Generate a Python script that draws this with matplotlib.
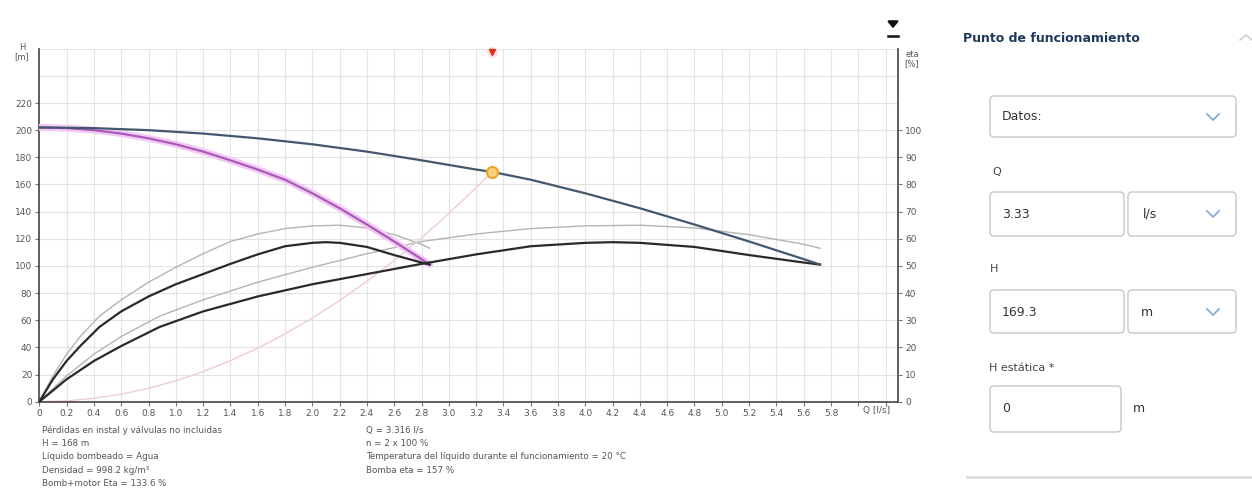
import matplotlib
matplotlib.use("Agg")
import matplotlib.pyplot as plt
from matplotlib.patches import FancyBboxPatch
import numpy as np

# pump curve, 2 pumps in parallel (Q in l/s, H in m)
q_par = [0, 0.4, 0.8, 1.2, 1.6, 2.0, 2.4, 2.8, 3.2, 3.316, 3.6, 4.0, 4.4, 4.8,
         5.2, 5.6, 5.72]
h_par = [202, 201.5, 200, 197.5, 194, 189.6, 184.2, 177.8, 171.0, 169.3, 163.5,
         153.5, 142.5, 130.5, 118, 105, 101]

# pump curve, single pump
q_one = [0, 0.2, 0.4, 0.6, 0.8, 1.0, 1.2, 1.4, 1.6, 1.8, 2.0, 2.2, 2.4, 2.6,
         2.8, 2.86]
h_one = [202, 201.5, 200, 197.5, 194, 189.6, 184.2, 177.8, 171.0, 163.5, 153.5,
         142.5, 130.5, 118, 105, 101]

# efficiency curves, plotted on the H scale (eta % x 2)
q_eta_one = [0, 0.1, 0.2, 0.3, 0.44, 0.6, 0.8, 1.0, 1.2, 1.4, 1.6, 1.8, 2.0,
             2.1, 2.2, 2.4, 2.6, 2.8, 2.86]
eta_one = [0, 16.5, 30, 41, 55, 66.5, 77.5, 86.5, 94, 101.5, 108.5, 114.5,
           117, 117.5, 117, 114, 108, 102.5, 101]
q_eta_par = [0, 0.2, 0.4, 0.6, 0.88, 1.2, 1.6, 2.0, 2.4, 2.8, 3.2, 3.6, 4.0,
             4.2, 4.4, 4.8, 5.2, 5.6, 5.72]
eta_par = [0, 16.5, 30, 41, 55, 66.5, 77.5, 86.5, 94, 101.5, 108.5, 114.5,
           117, 117.5, 117, 114, 108, 102.5, 101]

# overall (pump+motor) curves, light gray
q_gray_one = [0, 0.1, 0.2, 0.3, 0.44, 0.6, 0.8, 1.0, 1.2, 1.4, 1.6, 1.8, 2.0,
              2.2, 2.4, 2.6, 2.8, 2.86]
eta_gray_one = [0, 19, 35, 48, 63, 75, 88, 99, 109, 118, 123.5, 127.5, 129.5,
                130, 128, 123, 116, 113]
q_gray_par = [0, 0.2, 0.4, 0.6, 0.88, 1.2, 1.6, 2.0, 2.4, 2.8, 3.2, 3.6, 4.0,
              4.4, 4.8, 5.2, 5.6, 5.72]
eta_gray_par = [0, 19, 35, 48, 63, 75, 88, 99, 109, 118, 123.5, 127.5, 129.5,
                130, 128, 123, 116, 113]

# system curve up to the duty point
q_sys = [0, 0.2, 0.4, 0.6, 0.8, 1.0, 1.2, 1.4, 1.6, 1.8, 2.0, 2.2, 2.4, 2.6,
         2.8, 3.0, 3.2, 3.316]
h_sys = [0, 0.6, 2.5, 5.5, 9.9, 15.4, 22.2, 30.2, 39.4, 49.9, 61.6, 74.5, 88.7,
         104, 120.7, 138.6, 157.6, 169.3]

q_op, h_op = 3.316, 169.3

x_ticks = np.round(np.arange(0, 6.21, 0.2), 1)
h_ticks = list(range(0, 221, 20))
eta_ticks = list(range(0, 101, 10))

notes_left = ["Pérdidas en instal y válvulas no incluidas", "H = 168 m",
              "Líquido bombeado = Agua", "Densidad = 998.2 kg/m³",
              "Bomb+motor Eta = 133.6 %"]
notes_mid = ["Q = 3.316 l/s", "n = 2 x 100 %",
             "Temperatura del líquido durante el funcionamiento = 20 °C",
             "Bomba eta = 157 %"]

W, H = 1252, 493
fig = plt.figure(figsize=(W / 100, H / 100), dpi=100)
fig.patch.set_facecolor("white")

ax = fig.add_axes([39.3 / W, 1 - 401.7 / H, (898 - 39.3) / W, (401.7 - 48.7) / H])
ax.set_xlim(0, (898 - 39.3) / 136.5)
ax.set_ylim(0, 260)

for x in x_ticks[1:]:
    ax.axvline(x, color="#e3e3e3", lw=0.8, zorder=0)
for y in range(20, 261, 20):
    ax.axhline(y, color="#e3e3e3", lw=0.8, zorder=0)

ax.plot(q_gray_one, eta_gray_one, color="#b4b4b4", lw=1.0, zorder=2)
ax.plot(q_gray_par, eta_gray_par, color="#b4b4b4", lw=1.0, zorder=2)
ax.plot(q_sys, h_sys, color="#eecbd8", lw=1.0, zorder=2)
ax.plot(q_one, h_one, color="#f3c8f3", lw=5, solid_capstyle="round", zorder=3)
ax.plot(q_one, h_one, color="#a85cb8", lw=1.6, zorder=4)
ax.plot(q_eta_one, eta_one, color="#2a2a2a", lw=1.6, zorder=4)
ax.plot(q_eta_par, eta_par, color="#2a2a2a", lw=1.6, zorder=4)
ax.plot(q_par, h_par, color="#43586e", lw=1.6, zorder=4)

ax.plot(q_op, h_op, "o", ms=8, mfc="#f8d27a", mec="#f0a428", mew=1.5, zorder=6)
ax.plot(q_op, 257.5, "o", ms=7, color="#fbe0e0", clip_on=False, zorder=6)
ax.plot(q_op, 257.5, "v", ms=4, color="#d8331f", clip_on=False, zorder=7)

ax.spines["top"].set_visible(False)
for s in ["left", "bottom", "right"]:
    ax.spines[s].set_color("#444444")
    ax.spines[s].set_linewidth(1.2)

ax.set_xticks(list(x_ticks))
ax.set_xticklabels(["0" if v == 0 else f"{v:.1f}" if v < 5.9 else "" for v in x_ticks])
ax.set_yticks(h_ticks)
ax.tick_params(axis="both", labelsize=6.5, labelcolor="#555555", color="#777777",
               length=3, width=0.8, pad=2)

ax2 = ax.twinx()
ax2.set_ylim(0, 130)
ax2.set_yticks(eta_ticks)
for s in ax2.spines.values():
    s.set_visible(False)
ax2.tick_params(axis="y", labelsize=6.5, labelcolor="#555555", color="#777777",
                length=3, width=0.8, pad=2)

fig.text(22 / W, 1 - 52 / H, "H\n[m]", fontsize=6, color="#555555",
         ha="center", va="center", linespacing=0.9)
fig.text(912 / W, 1 - 59 / H, "eta\n[%]", fontsize=6, color="#555555",
         ha="center", va="center", linespacing=0.9)
fig.text(877 / W, 1 - 410 / H, "Q [l/s]", fontsize=6.5, color="#555555",
         ha="center", va="center")

for i, line in enumerate(notes_left):
    fig.text(42 / W, 1 - (430 + i * 13.4) / H, line, fontsize=6.3,
             color="#555555", va="center")
for i, line in enumerate(notes_mid):
    fig.text(366 / W, 1 - (430 + i * 13.4) / H, line, fontsize=6.3,
             color="#555555", va="center")

# side panel, drawn in pixel coordinates
ui = fig.add_axes([0, 0, 1, 1], zorder=-1)
ui.set_xlim(0, W)
ui.set_ylim(H, 0)
ui.axis("off")

# download icon above the eta axis
ui.annotate("", xy=(893, 31), xytext=(893, 21),
            arrowprops=dict(arrowstyle="-|>,head_width=0.3,head_length=0.35",
                            color="#111111", lw=1.8))
ui.plot([888, 898], [35.5, 35.5], color="#111111", lw=1.8)

ui.text(963, 38, "Punto de funcionamiento", fontsize=9, fontweight="bold",
        color="#1e3a5c", va="center")
ui.plot([1240, 1246, 1252], [40, 35, 40], color="#d0d0d0", lw=1.2)


def box(x0, y0, x1, y1):
    ui.add_patch(FancyBboxPatch((x0, y0), x1 - x0, y1 - y0,
                                boxstyle="round,pad=0,rounding_size=4",
                                fc="white", ec="#c8c8c8", lw=1.0))


def chevron(x, y):
    ui.plot([x - 6, x, x + 6], [y - 3, y + 3, y - 3], color="#86aed3", lw=1.3)


box(990, 96, 1236, 137)
ui.text(1002, 117, "Datos:", fontsize=9, color="#333333", va="center")
chevron(1213, 117)

ui.text(992, 172, "Q", fontsize=8, color="#444444", va="center")
box(990, 192, 1124, 236)
box(1128, 192, 1236, 236)
ui.text(1002, 214, "3.33", fontsize=9, color="#333333", va="center")
ui.text(1143, 214, "l/s", fontsize=9, color="#333333", va="center")
chevron(1213, 214)

ui.text(990, 269, "H", fontsize=8, color="#444444", va="center")
box(990, 290, 1124, 333)
box(1128, 290, 1236, 333)
ui.text(1002, 312, "169.3", fontsize=9, color="#333333", va="center")
ui.text(1141, 312, "m", fontsize=9, color="#333333", va="center")
chevron(1213, 312)

ui.text(989, 368, "H estática *", fontsize=8, color="#444444", va="center")
box(990, 386, 1121, 432)
ui.text(1002, 409, "0", fontsize=9, color="#333333", va="center")
ui.text(1133, 409, "m", fontsize=9, color="#333333", va="center")

ui.plot([967, 1252], [477, 477], color="#dddddd", lw=2)

fig.savefig("out.png", dpi=100)
